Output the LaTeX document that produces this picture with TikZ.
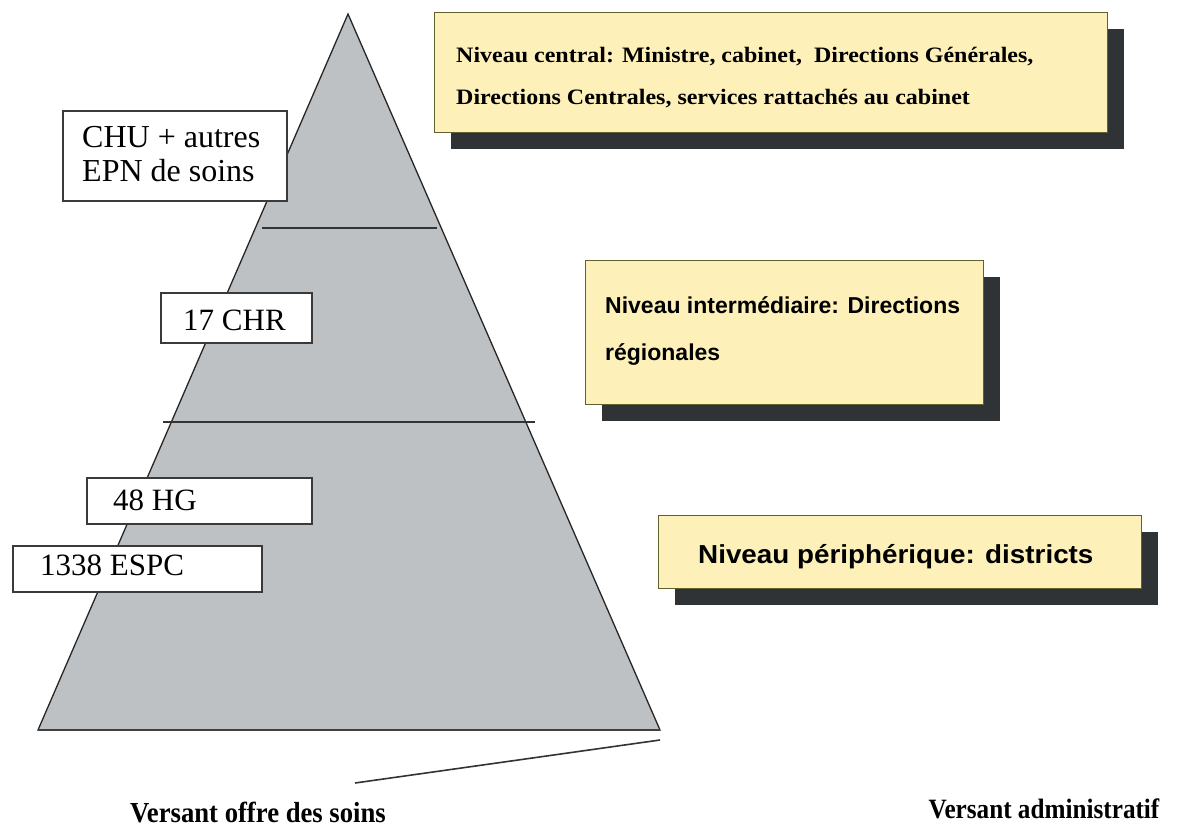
\documentclass[tikz,border=0pt]{standalone}
\usepackage{fontspec}
\setmainfont{Liberation Serif}
\newfontfamily\sansf{Liberation Sans}
\usetikzlibrary{shadows}
\definecolor{pyr}{HTML}{BEC1C4}
\definecolor{yel}{HTML}{FDF0B9}
\definecolor{shad}{HTML}{2F3336}
\definecolor{edge}{HTML}{3A3A3A}
\begin{document}
\begin{tikzpicture}[x=1pt,y=-1pt,
  wbox/.style={draw=edge, line width=1.6pt, fill=white, anchor=north west, inner sep=0pt},
  ybox/.style={draw=edge!80!yellow, line width=1.4pt, fill=yel, anchor=north west, inner sep=0pt,
     drop shadow={shadow xshift=16pt, shadow yshift=-16pt, fill=shad, opacity=1}},
  wtxt/.style={anchor=base west, inner sep=0pt, font=\fontsize{31}{34}\selectfont},
  ctxt/.style={anchor=base west, inner sep=0pt, font=\fontsize{22}{26}\selectfont\bfseries},
  stxt/.style={anchor=base west, inner sep=0pt, font=\sansf\bfseries\fontsize{23}{27}\selectfont},
  lbl/.style={anchor=base, inner sep=0pt, font=\fontsize{29}{32}\selectfont\bfseries}]
\useasboundingbox (0,0) rectangle (1177,829);
% pyramid
\coordinate (apex) at (348,14);
\coordinate (br) at (660,730);
\coordinate (bl) at (38,730);
\draw[fill=pyr, line width=1.3pt, draw=black!85] (apex) -- (br) -- (bl) -- cycle;
\draw[line width=2.6pt, draw=black!75] (bl) -- (br);
\coordinate (h1a) at (262,228); \coordinate (h1b) at (437,228);
\coordinate (h2a) at (163,422); \coordinate (h2b) at (535,422);
\draw[line width=1.4pt, draw=black!80] (h1a) -- (h1b);
\draw[line width=1.4pt, draw=black!80] (h2a) -- (h2b);
\coordinate (s1) at (660,740); \coordinate (s2) at (355,783);
\draw[line width=1.6pt, draw=black!80] (s1) -- (s2);
% white boxes
\node[wbox, minimum width=224, minimum height=90] (chu) at (62,110) {};
\node[wtxt, font=\fontsize{32}{34}\selectfont] (chu1) at (82,148) {CHU + autres};
\node[wtxt, font=\fontsize{32}{34}\selectfont] (chu2) at (82,182) {EPN de soins};
\node[wbox, minimum width=151, minimum height=50] (chr) at (160,292) {};
\node[wtxt] (chrt) at (183,330) {17 CHR};
\node[wbox, minimum width=225, minimum height=46] (hg) at (86,477) {};
\node[wtxt] (hgt) at (113,510) {48 HG};
\node[wbox, minimum width=249, minimum height=46] (espc) at (12,545) {};
\node[wtxt] (espct) at (40,575) {1338 ESPC};
% yellow boxes
\node[ybox, minimum width=673, minimum height=120] (central) at (434,12) {};
\node[ctxt] (c1) at (456,63) {\scalebox{1.09}[1]{Niveau central: Ministre, cabinet,\ \ Directions Générales,}};
\node[ctxt] (c2) at (456,105) {\scalebox{1.09}[1]{Directions Centrales, services rattachés au cabinet}};
\node[ybox, minimum width=398, minimum height=144] (inter) at (585,260) {};
\node[stxt] (i1) at (605,313) {Niveau intermédiaire: Directions};
\node[stxt] (i2) at (605,360) {régionales};
\node[ybox, minimum width=483, minimum height=73] (peri) at (658,515) {};
\node[stxt, font=\sansf\bfseries\fontsize{26}{30}\selectfont] (p1) at (698,563) {\scalebox{1.07}[1]{Niveau périphérique: districts}};
% bottom labels
\node[lbl] (voffre) at (258,822) {\scalebox{0.92}[1]{Versant offre des soins}};
\node[lbl, font=\fontsize{28}{32}\selectfont\bfseries] (vadmin) at (1044,818) {\scalebox{0.9}[1]{Versant administratif}};
\end{tikzpicture}
\end{document}
